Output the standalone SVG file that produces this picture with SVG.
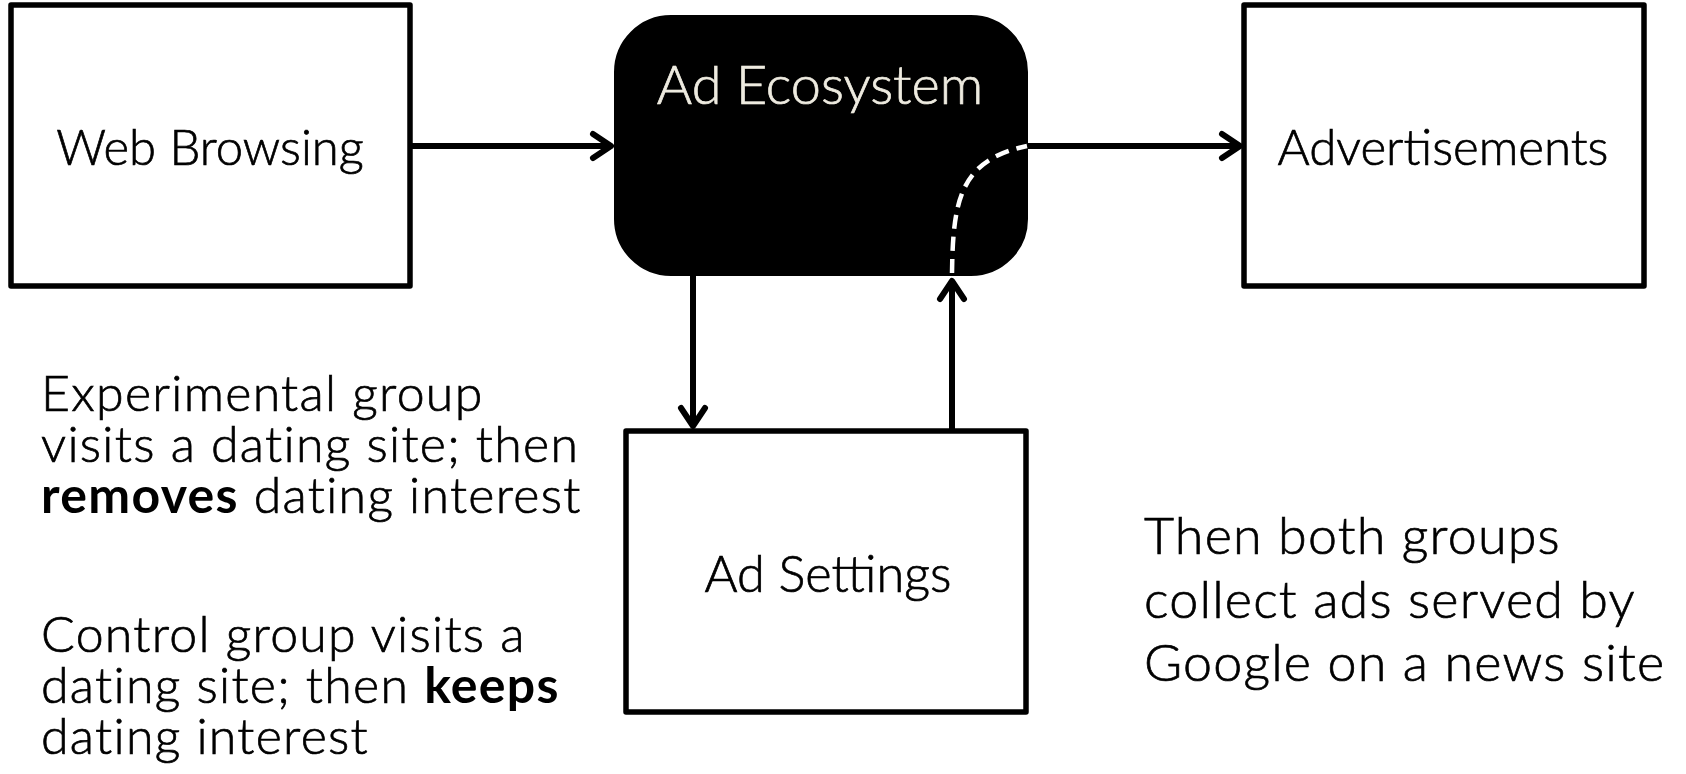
<svg xmlns="http://www.w3.org/2000/svg" width="1686" height="774" viewBox="0 0 1686 774">
  <defs>
    <!-- open chevron arrowhead; tip sits at the line end -->
    <marker id="chev" viewBox="-24 -18 30 36" refX="0" refY="0" markerWidth="30" markerHeight="36" markerUnits="userSpaceOnUse" orient="auto">
      <path d="M-18,-12 L0,0 L-18,12" fill="none" stroke="#000" stroke-width="6" stroke-linecap="round" stroke-linejoin="round"/>
    </marker>
    <style>
      .box { fill: #fff; stroke: #000; stroke-width: 5.5; stroke-linejoin: round; }
      .dark { fill: #000; stroke: #000; stroke-width: 2; }
      .lbl { font-family: Lato, "Liberation Sans", sans-serif; font-weight: 300; fill: #000; stroke: #000; stroke-width: 0.7; }
      .light { fill: #eeebe0; stroke: #eeebe0; }
      .edge { fill: none; stroke: #000; stroke-width: 6; }
      .b { font-weight: 700; stroke-width: 0; }
    </style>
  </defs>

  <!-- connectors -->
  <g id="connectors">
    <line class="edge" x1="410" y1="146" x2="611" y2="146" marker-end="url(#chev)"/>
    <line class="edge" x1="1027" y1="146" x2="1240" y2="146" marker-end="url(#chev)"/>
    <line class="edge" x1="693" y1="275" x2="693" y2="426" marker-end="url(#chev)"/>
    <line class="edge" x1="952" y1="431" x2="952" y2="281" marker-end="url(#chev)"/>
  </g>

  <g id="web-browsing">
    <rect class="box" x="11" y="5" width="399" height="281"/>
    <text class="lbl" x="210" y="165" font-size="49" text-anchor="middle">Web Browsing</text>
  </g>

  <g id="ad-ecosystem">
    <rect class="dark" x="615" y="16" width="412" height="259" rx="56" ry="56"/>
    <text class="lbl light" x="820" y="104" font-size="54" text-anchor="middle">Ad Ecosystem</text>
    <!-- settings feed straight through into the served ads -->
    <path d="M952,273 C953,200 960,160 1027,146" fill="none" stroke="#fff" stroke-width="4.5" stroke-dasharray="14 8"/>
  </g>

  <g id="advertisements">
    <rect class="box" x="1244" y="5" width="400" height="281"/>
    <text class="lbl" x="1443" y="165" font-size="49.2" text-anchor="middle">Advertisements</text>
  </g>

  <g id="ad-settings">
    <rect class="box" x="626" y="431" width="400" height="281"/>
    <text class="lbl" x="828" y="592" font-size="50.5" text-anchor="middle">Ad Settings</text>
  </g>

  <g id="group-notes">
    <text class="lbl" font-size="50" letter-spacing="1.3">
      <tspan x="41" y="411">Experimental group</tspan>
      <tspan x="41" y="462">visits a dating site; then</tspan>
      <tspan x="41" y="513"><tspan class="b">removes</tspan> dating interest</tspan>
      <tspan x="41" y="652">Control group visits a</tspan>
      <tspan x="41" y="703">dating site; then <tspan class="b">keeps</tspan></tspan>
      <tspan x="41" y="754">dating interest</tspan>
    </text>
  </g>

  <g id="collection-note">
    <text class="lbl" font-size="52" letter-spacing="1.2">
      <tspan x="1144" y="554">Then both groups</tspan>
      <tspan x="1144" y="618">collect ads served by</tspan>
      <tspan x="1144" y="681">Google on a news site</tspan>
    </text>
  </g>
</svg>
